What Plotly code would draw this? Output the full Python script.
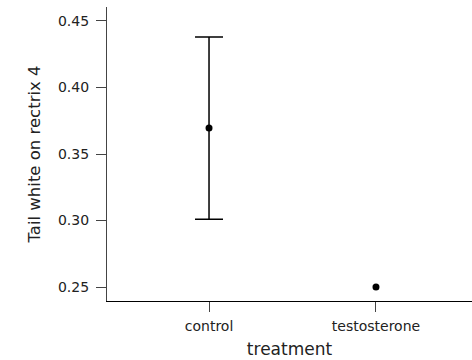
import plotly.graph_objects as go

categories = ["control", "testosterone"]
means = [0.3695, 0.25]
err_plus = [0.0685, None]
err_minus = [0.0685, None]
y_ticks = [0.25, 0.30, 0.35, 0.40, 0.45]
y_tick_labels = ["0.25", "0.30", "0.35", "0.40", "0.45"]

fig = go.Figure()
for cat, m, ep, em in zip(categories, means, err_plus, err_minus):
    kw = {}
    if ep is not None:
        kw["error_y"] = dict(type="data", symmetric=False, array=[ep], arrayminus=[em],
                             color="black", thickness=1.5, width=14)
    fig.add_trace(go.Scatter(
        x=[cat], y=[m], mode="markers",
        marker=dict(color="black", size=7),
        showlegend=False, **kw,
    ))
font = "DejaVu Sans, Verdana, sans-serif"
fig.update_layout(
    width=472, height=360,
    margin=dict(l=107, r=0, t=7, b=59),
    plot_bgcolor="white", paper_bgcolor="white",
    font=dict(family=font, color="#222", size=14),
    xaxis=dict(
        type="category", categoryarray=categories, range=[-0.611, 1.575],
        showline=True, linecolor="black", linewidth=1.3,
        ticks="outside", ticklen=10, tickcolor="#444", tickwidth=1.2,
        ticklabelstandoff=2,
        showgrid=False, zeroline=False,
        tickfont=dict(size=14),
        title=dict(text="treatment", font=dict(size=17), standoff=10),
    ),
    yaxis=dict(
        range=[0.2395, 0.4605],
        tickvals=y_ticks, ticktext=y_tick_labels,
        showline=True, linecolor="#444", linewidth=1.2,
        ticks="outside", ticklen=10, tickcolor="#444", tickwidth=1.2,
        ticklabelstandoff=4,
        showgrid=False, zeroline=False,
        tickfont=dict(size=14),
        title=dict(text="Tail white on rectrix 4", font=dict(size=16.5), standoff=13),
    ),
)
fig.write_html("out.html", config={"displayModeBar": False},
               post_script="document.body.style.margin='0';document.body.style.overflow='hidden';")
